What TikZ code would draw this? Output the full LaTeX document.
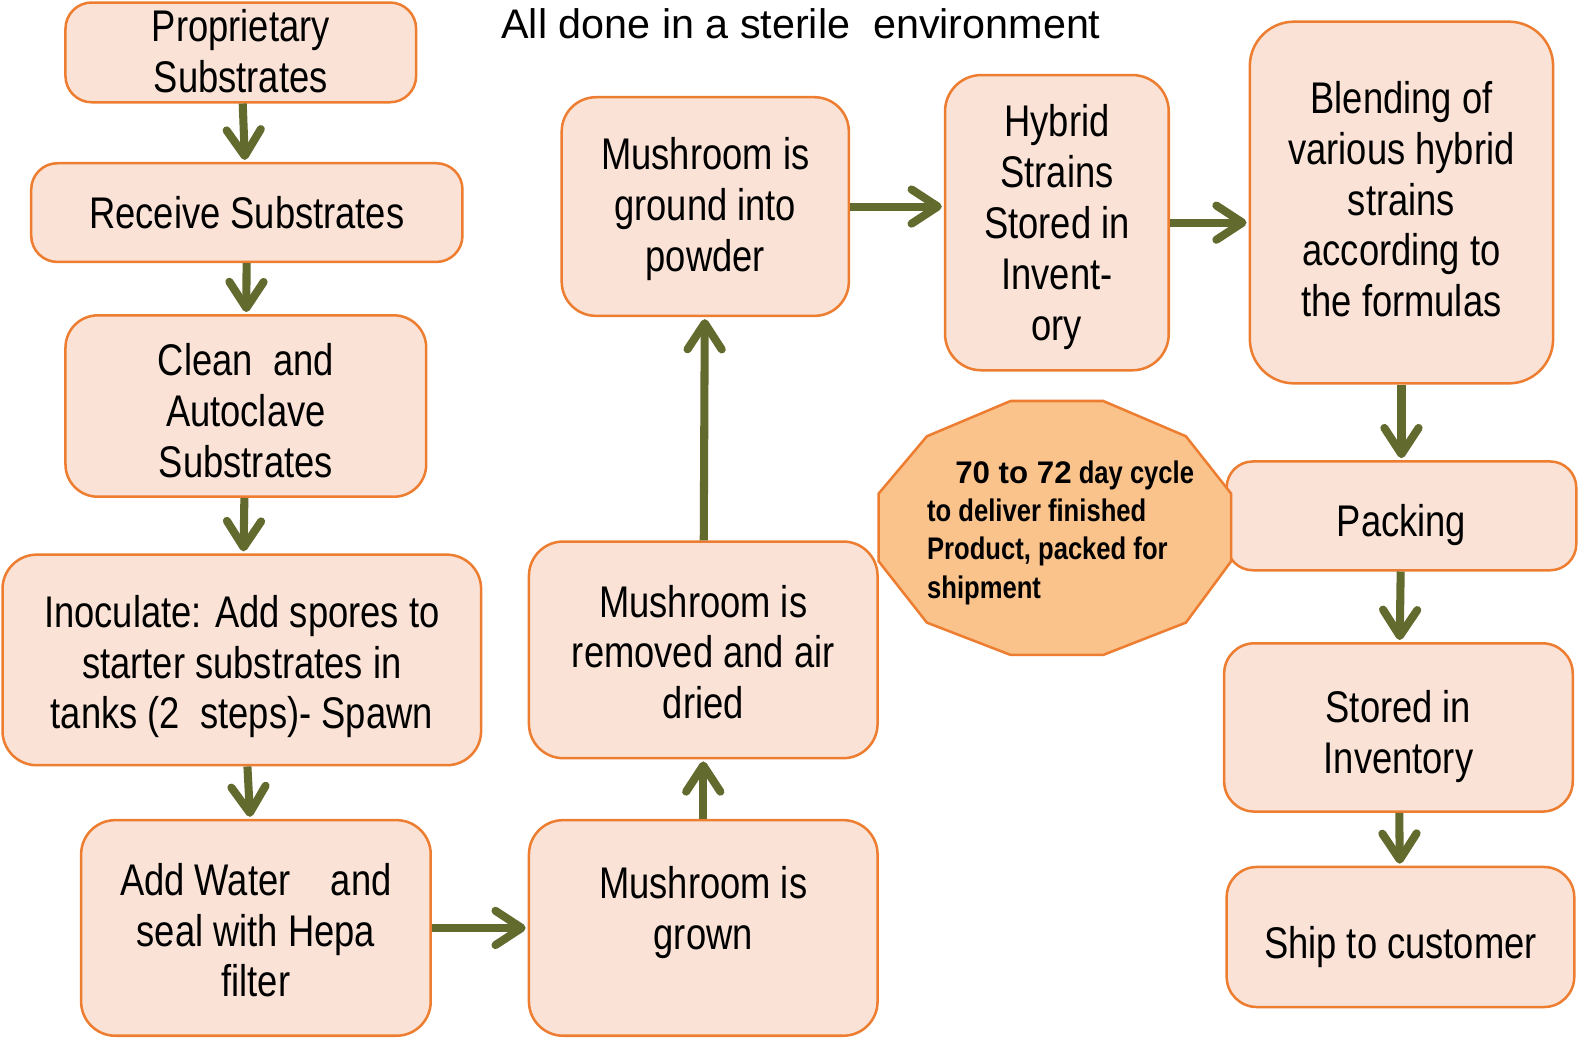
\documentclass[tikz,border=0pt]{standalone}
\usepackage{fontspec}
\setmainfont{Liberation Sans}[FakeStretch=0.82]
\newfontfamily\plainfont{Liberation Sans}
\usetikzlibrary{arrows.meta,positioning}
\definecolor{boxFill}{HTML}{FAE3D6}
\definecolor{boxLine}{HTML}{ED7D31}
\definecolor{cycFill}{HTML}{FBC38C}
\definecolor{arColor}{HTML}{636A2E}
\newcommand{\hi}[1][49.5]{\rule{0pt}{#1pt}}
\tikzset{
	stepbox/.style={draw=boxLine, fill=boxFill, line width=2.5pt, rounded corners=26pt,
		align=center, inner sep=0pt, font=\fontsize{44}{50.5}\selectfont,
		execute at end node={\rule[-9.5pt]{0pt}{9.5pt}}},
	bx/.style 2 args={minimum width=#1pt, minimum height=#2pt},
	flow/.style={draw=arColor, line width=8pt,
		-{Straight Barb[length=26pt,width=34pt,round,line width=8pt]}, shorten >=2pt}
}

\begin{document}
\begin{tikzpicture}[x=1pt, y=-1pt]
	\useasboundingbox (0,0) rectangle (1568.2,1030.3);
	\node[font=\plainfont\fontsize{41}{50}\selectfont] (title) at (795,24) {All done in a sterile\ \ environment};
	
	\node[stepbox, bx={348}{99}] (s1) at (239,52) {\hi[38.5]Proprietary\\Substrates};
	\node[stepbox, bx={428}{98}] (s2) at (245,211) {\hi[41.5]Receive Substrates};
	\node[stepbox, bx={358}{180}, rounded corners=32pt] (s3) at (244,403) {\hi Clean\ \ and\\Autoclave\\Substrates};
	\node[stepbox, bx={475}{209}, rounded corners=34pt] (s4) at (240,655) {\hi[45.5]Inoculate: Add spores to\\starter substrates in\\tanks (2\ \ steps)- Spawn};
	\node[stepbox, bx={347}{214}, rounded corners=34pt] (s5) at (254,921) {\hi[45.5]Add Water\ \ \ \ and\\seal with Hepa\\filter};
	\node[stepbox, bx={346}{214}, rounded corners=34pt] (s6) at (698,921) {\hi[52.5]Mushroom is\\grown\\\vphantom{y}};
	\node[stepbox, bx={346}{215}, rounded corners=34pt] (s7) at (698,645) {\hi[45.5]Mushroom is\\removed and air\\dried};
	\node[stepbox, bx={285}{217}, rounded corners=34pt] (s8) at (700,205) {\hi[37.5]Mushroom is\\ground into\\powder};
	\node[stepbox, bx={222}{293}, rounded corners=36pt] (s9) at (1049,221) {\hi[40.5]Hybrid\\Strains\\Stored in\\Invent-\\ory};
	\node[stepbox, bx={301}{359}, rounded corners=44pt] (s10) at (1391,201) {\hi[34.5]Blending of\\various hybrid\\strains\\according to\\the formulas};
	\node[stepbox, bx={347}{108}] (s11) at (1391,512) {\hi Packing};
	\node[stepbox, bx={346}{167}, rounded corners=30pt] (s12) at (1388,722) {\hi Stored in\\Inventory};
	\node[stepbox, bx={345}{139}, rounded corners=30pt] (s13) at (1390,930) {\hi[52.5]Ship to customer};
	
	\draw[draw=boxLine, fill=cycFill, line width=2.5pt] (1003,398) -- (1095,398) -- (1177,433) -- (1222,490)
		-- (1222,557) -- (1177,618) -- (1095,650) -- (1003,650) -- (920,618) -- (872,557) -- (872,490) -- (920,433) -- cycle;
	\node[align=left, anchor=north west, inner sep=0pt, font=\bfseries\fontsize{31}{38}\selectfont] (cyc) at (920,457)
		{\hspace{28pt}{\plainfont\bfseries 70 to 72} day cycle\\to deliver finished\\Product, packed for\\shipment};
	
	\draw[flow] (s1) -- (s2);
	\draw[flow] (s2) -- (s3);
	\draw[flow] (s3) -- (s4);
	\draw[flow] (s4) -- (s5);
	\draw[flow] (s5) -- (s6);
	\draw[flow] (s6) -- (s7);
	\draw[flow] (s7) -- (s8);
	\draw[flow] (s8.east) -- (s8.east -| s9.west);
	\draw[flow] (s9.east) -- (s9.east -| s10.west);
	\draw[flow] (s10) -- (s11);
	\draw[flow] (s11) -- (s12);
	\draw[flow] (s12) -- (s13);
\end{tikzpicture}
\end{document}
